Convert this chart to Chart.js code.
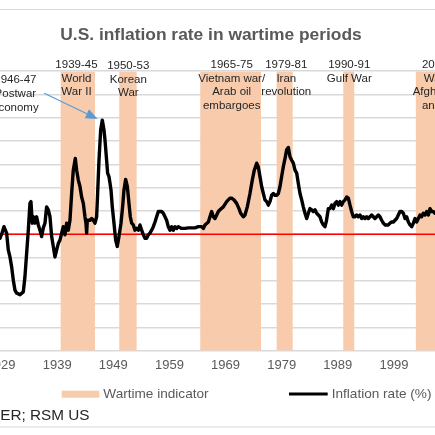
<!DOCTYPE html>
<html><head><meta charset="utf-8">
<script src="https://cdn.jsdelivr.net/npm/chart.js@4"></script>
<style>
html,body{margin:0;padding:0;background:#fff;overflow:hidden;}
#wrap{position:relative;width:435px;height:435px;overflow:hidden;background:#fff;}
#c{position:absolute;left:-120px;top:0;}
</style></head><body>
<div id="wrap"><canvas id="c" width="650" height="435"></canvas></div>
<script>
// ---------- data ----------
const tickYears = [1919, 1929, 1939, 1949, 1959, 1969, 1979, 1989, 1999, 2009];

const inflationYears = [
1928.6,1928.81,1929.2,1929.52,1930.0,1930.29,1930.59,1930.89,1931.19,1931.48,1931.78,1932.37,1932.97,1933.26,1933.56,1933.86,
1934.15,1934.33,1934.57,1934.75,1935.05,1935.34,1935.64,1935.94,1936.23,1936.53,1936.83,1937.12,1937.42,1937.72,1938.02,1938.31,
1938.61,1938.91,1939.20,1939.50,1939.80,1940.09,1940.39,1940.69,1940.98,1941.28,1941.58,1941.87,1942.23,1942.47,1942.77,1943.06,
1943.36,1943.66,1943.95,1944.13,1944.25,1944.37,1944.84,1945.14,1945.44,1945.74,1946.03,1946.21,1946.45,1946.75,1947.04,1947.34,
1947.52,1947.81,1947.99,1948.23,1948.41,1948.59,1948.82,1949.12,1949.42,1949.71,1950.01,1950.37,1950.66,1950.90,1951.20,1951.50,
1951.79,1952.03,1952.27,1952.57,1952.86,1953.16,1953.46,1953.75,1954.05,1954.35,1954.64,1954.94,1955.24,1955.53,1955.83,1956.13,
1956.43,1956.72,1957.02,1957.32,1957.61,1957.91,1958.21,1958.50,1958.80,1959.10,1959.40,1959.69,1959.99,1960.29,1960.58,1961.18,
1961.77,1962.37,1962.96,1963.55,1964.15,1964.74,1965.04,1965.33,1965.93,1966.22,1966.52,1966.82,1967.12,1967.71,1968.01,1968.60,
1969.19,1969.79,1970.08,1970.50,1970.97,1971.39,1971.69,1972.16,1972.46,1972.87,1973.35,1973.76,1974.12,1974.54,1974.83,1975.13,
1975.43,1975.73,1976.02,1976.32,1976.62,1976.91,1977.21,1977.51,1977.80,1978.10,1978.40,1978.70,1978.99,1979.29,1979.59,1979.88,
1980.18,1980.48,1980.78,1981.07,1981.37,1981.67,1981.96,1982.26,1982.56,1982.85,1983.15,1983.45,1983.74,1984.04,1984.34,1984.63,
1984.93,1985.23,1985.53,1985.82,1986.12,1986.42,1986.71,1986.95,1987.31,1987.60,1987.90,1988.20,1988.49,1988.79,1989.09,1989.38,
1989.68,1989.98,1990.28,1990.57,1990.87,1991.17,1991.46,1991.76,1992.06,1992.35,1992.65,1992.95,1993.25,1993.54,1993.84,1994.14,
1994.43,1994.73,1995.03,1995.32,1995.62,1995.92,1996.21,1996.51,1996.81,1997.11,1997.40,1997.70,1998.00,1998.29,1998.59,1998.89,
1999.18,1999.48,1999.78,2000.07,2000.37,2000.67,2000.97,2001.26,2001.56,2001.86,2002.15,2002.45,2002.75,2003.04,2003.34,2003.64,
2003.93,2004.23,2004.53,2004.83,2005.12,2005.42,2005.72,2006.01,2006.31,2006.8
];
const inflationValues = [
-0.4,-0.7,0.3,1.3,0.2,-2.7,-3.9,-5.6,-7.9,-9.6,-10.1,-10.4,-9.9,-7.3,-3.3,0.7,
5.3,5.6,1.9,3.0,1.9,3.0,1.6,0.7,-0.4,1.1,1.9,4.7,4.2,3.0,-0.4,-2.1,
-3.9,-2.7,-1.6,-1.0,0.2,1.3,-0.1,1.9,0.7,2.4,7.0,11.0,13.0,11.0,9.3,8.2,
6.4,5.3,3.0,1.9,0.2,2.4,2.4,2.7,2.4,1.9,3.0,7.0,12.7,17.9,19.6,17.9,
16.2,12.7,10.5,9.9,8.8,7.6,4.7,1.9,-1.0,-2.1,-0.4,1.9,4.7,7.6,9.4,8.2,
5.3,3.0,1.9,1.6,0.7,1.0,0.7,1.6,0.7,-0.1,-0.7,-0.7,-0.1,0.2,0.7,1.3,
2.1,3.0,3.9,3.9,3.9,3.6,3.0,2.4,1.3,0.7,1.3,0.7,1.3,1.0,1.3,1.0,
1.0,1.1,1.1,1.1,1.3,1.3,1.0,1.6,2.1,3.0,3.9,3.0,2.7,3.9,4.2,4.7,
5.6,6.2,6.2,5.9,5.3,4.4,3.6,3.0,3.3,4.7,7.0,9.3,11.0,12.2,11.6,9.9,
8.2,7.0,5.9,5.6,5.0,5.6,6.7,7.0,6.7,6.7,7.0,8.2,9.9,11.6,13.0,14.5,
14.9,13.3,12.7,12.2,11.0,10.5,8.7,7.0,5.9,4.7,3.6,2.7,3.6,4.4,4.2,3.9,
4.2,3.6,3.3,3.0,2.1,1.6,1.3,2.2,4.4,4.4,5.0,4.4,5.3,5.6,5.0,5.6,
5.0,5.6,5.9,6.4,6.2,5.0,3.9,3.0,3.0,3.3,3.0,3.3,2.7,3.0,2.7,3.0,
2.7,3.0,3.3,3.0,2.7,3.0,3.3,3.0,2.4,1.9,1.6,1.6,1.6,1.9,2.1,2.1,
2.4,2.7,3.3,3.9,3.9,3.6,2.7,3.0,2.1,1.6,1.3,1.9,2.7,2.1,2.7,3.3,
3.0,3.6,3.3,3.9,3.3,4.4,3.9,3.9,3.6,3.6
];

const warStart = [1939.62, 1950.06, 1964.49, 1978.10, 1989.97, 2002.90];
const warEnd   = [1945.73, 1953.16, 1975.31, 1980.96, 1991.93, 2014.90];
const warLabels = [
  ["1939-45", "World", "War II"],
  ["1950-53", "Korean", "War"],
  ["1965-75", "Vietnam war/", "Arab oil", "embargoes"],
  ["1979-81", "Iran", "revolution"],
  ["1990-91", "Gulf War"],
  ["2001-14", "Wars in", "Afghanistan", "and Iraq"]
];
const warLabelYears = [1942.44, 1951.67, 1970.09, 1979.82, 1991.04, 2007.74];
const postwarLabel = ["1946-47", "Postwar", "economy"];
const postwarLabelYear = 1931.55;
const arrowFrom = [1936.70, 24.2];
const arrowTo = [1946.22, 19.8];

const titleText = "U.S. inflation rate in wartime periods";
const sourceText = "Source: NBER; RSM US";
const xMin = 1919, xMax = 2017, yMin = -20, yMax = 28, yStep = 4;

// ---------- build datasets ----------
const FONT = "'Liberation Sans', Arial, Helvetica, sans-serif";
Chart.defaults.font.family = FONT;

const linePts = inflationYears.map((x, i) => ({x, y: inflationValues[i]}));
const bandPts = [{x: xMin, y: 0}];
warStart.forEach((s, i) => { bandPts.push({x: s, y: 1}); bandPts.push({x: warEnd[i], y: 0}); });
bandPts.push({x: xMax, y: 0});

const decor = {
  id: 'decor',
  afterDraw(chart) {
    const ctx = chart.ctx, xs = chart.scales.x, ys = chart.scales.y;
    const OFF = 120; // canvas shift relative to the window
    ctx.save();
    // outer frame
    ctx.strokeStyle = '#D9D9D9'; ctx.lineWidth = 1;
    ctx.strokeRect(2.5, 9.5, chart.width - 5, 417.5);
    // title
    ctx.fillStyle = '#595959';
    ctx.font = "bold 17.4px " + FONT;
    ctx.textAlign = 'center'; ctx.textBaseline = 'alphabetic';
    ctx.fillText(titleText, 211 + OFF, 40);
    // war labels
    ctx.fillStyle = '#262626';
    ctx.font = "11.5px " + FONT;
    const rows = [67.5, 81.5, 95, 108.5];
    warLabels.forEach((lines, i) => {
      const cx = xs.getPixelForValue(warLabelYears[i]);
      const shift = (i === 1) ? 1.3 : 0;
      lines.forEach((t, j) => ctx.fillText(t, cx, rows[j] + shift));
    });
    const pcx = xs.getPixelForValue(postwarLabelYear);
    postwarLabel.forEach((t, j) => ctx.fillText(t, pcx, rows[j] + 15.5));
    // arrow
    const ax0 = xs.getPixelForValue(arrowFrom[0]), ay0 = ys.getPixelForValue(arrowFrom[1]);
    const ax1 = xs.getPixelForValue(arrowTo[0]), ay1 = ys.getPixelForValue(arrowTo[1]);
    const dx = ax1 - ax0, dy = ay1 - ay0, len = Math.hypot(dx, dy);
    const ux = dx / len, uy = dy / len, hl = 12, hw = 5;
    ctx.strokeStyle = '#5B9BD5'; ctx.fillStyle = '#5B9BD5'; ctx.lineWidth = 1.2;
    ctx.beginPath(); ctx.moveTo(ax0, ay0); ctx.lineTo(ax1 - ux * hl, ay1 - uy * hl); ctx.stroke();
    ctx.beginPath();
    ctx.moveTo(ax1, ay1);
    ctx.lineTo(ax1 - ux * hl - uy * hw, ay1 - uy * hl + ux * hw);
    ctx.lineTo(ax1 - ux * hl + uy * hw, ay1 - uy * hl - ux * hw);
    ctx.closePath(); ctx.fill();
    // legend
    const dsBand = chart.data.datasets[2], dsLine = chart.data.datasets[0];
    ctx.font = "13.6px " + FONT; ctx.textAlign = 'left'; ctx.textBaseline = 'middle';
    ctx.fillStyle = dsBand.backgroundColor;
    ctx.fillRect(61.7 + OFF, 390.7, 37.6, 7);
    ctx.fillStyle = '#595959';
    ctx.fillText(dsBand.label, 103.3 + OFF, 394.5);
    ctx.strokeStyle = dsLine.borderColor; ctx.lineWidth = 3;
    ctx.beginPath(); ctx.moveTo(289 + OFF, 394); ctx.lineTo(327.7 + OFF, 394); ctx.stroke();
    ctx.fillText(dsLine.label, 331.7 + OFF, 394.5);
    // source
    ctx.fillStyle = '#262626';
    ctx.font = "15.3px " + FONT; ctx.textAlign = 'right'; ctx.textBaseline = 'alphabetic';
    ctx.fillText(sourceText, 89.5 + OFF, 419.5);
    ctx.restore();
  }
};

new Chart(document.getElementById('c'), {
  type: 'line',
  data: {
    datasets: [
      { label: 'Inflation rate (%)', data: linePts, borderColor: '#000000', borderWidth: 3.4,
        pointRadius: 0, tension: 0, borderJoinStyle: 'round', borderCapStyle: 'round',
        yAxisID: 'y', order: 1 },
      { label: 'zero', data: [{x: xMin, y: 0}, {x: xMax, y: 0}], borderColor: '#FF0000',
        borderWidth: 1.4, pointRadius: 0, yAxisID: 'y', order: 2 },
      { label: 'Wartime indicator', data: bandPts, stepped: true, fill: 'origin',
        backgroundColor: '#F8CBAD', borderColor: 'rgba(0,0,0,0)', borderWidth: 0,
        pointRadius: 0, yAxisID: 'y2', order: 3 }
    ]
  },
  options: {
    responsive: false, animation: false, events: [],
    layout: { padding: { top: 71.2, bottom: 54.3, left: 0, right: 35 } },
    plugins: { legend: { display: false }, title: { display: false }, tooltip: { enabled: false } },
    scales: {
      x: {
        type: 'linear', min: xMin, max: xMax,
        afterBuildTicks: s => { s.ticks = tickYears.map(v => ({value: v})); },
        afterFit: s => { s.height = 30; },
        ticks: { color: '#595959', font: { size: 13 }, padding: 7, maxRotation: 0, autoSkip: false,
                 callback: v => String(v) },
        grid: { display: false, drawTicks: false },
        border: { display: false }
      },
      y: {
        min: yMin, max: yMax,
        ticks: { stepSize: yStep, display: false },
        afterFit: s => { s.width = 64.9; },
        grid: { color: '#D9D9D9', lineWidth: 1.5, drawTicks: false },
        border: { display: false }
      },
      y2: { type: 'linear', min: 0, max: 1, display: false }
    }
  },
  plugins: [decor]
});
</script>
</body></html>
